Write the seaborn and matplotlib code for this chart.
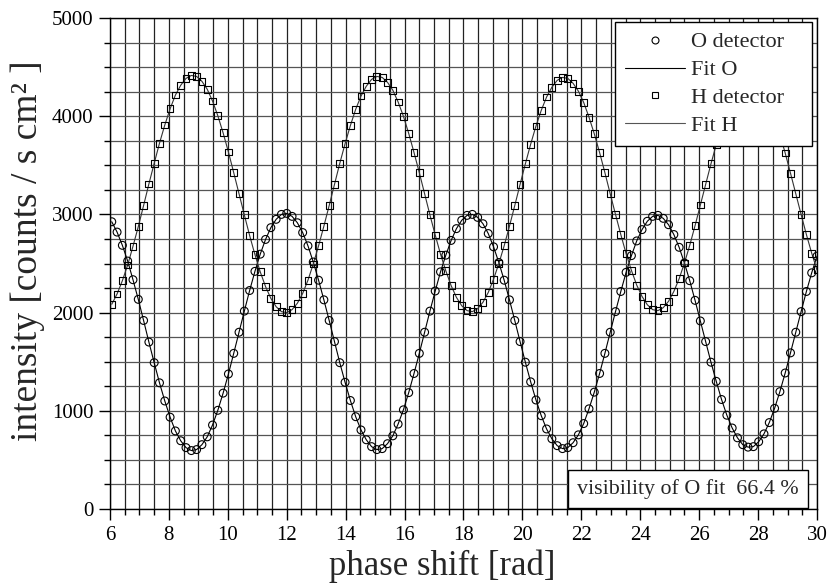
import numpy as np
import pandas as pd
import matplotlib
matplotlib.use("Agg")
import matplotlib.pyplot as plt
from matplotlib.lines import Line2D
from matplotlib.ticker import MultipleLocator
import seaborn as sns

# phase shift [rad]
phase = [6.06, 6.24, 6.42, 6.60, 6.78, 6.96, 7.14, 7.32, 7.50, 7.68,
         7.86, 8.04, 8.22, 8.40, 8.58, 8.76, 8.94, 9.12, 9.30, 9.48,
         9.66, 9.84, 10.02, 10.20, 10.38, 10.56, 10.74, 10.92, 11.10, 11.28,
         11.46, 11.64, 11.82, 12.00, 12.18, 12.36, 12.54, 12.72, 12.90, 13.08,
         13.26, 13.44, 13.62, 13.80, 13.98, 14.16, 14.34, 14.52, 14.70, 14.88,
         15.06, 15.24, 15.42, 15.60, 15.78, 15.96, 16.14, 16.32, 16.50, 16.68,
         16.86, 17.04, 17.22, 17.40, 17.58, 17.76, 17.94, 18.12, 18.30, 18.48,
         18.66, 18.84, 19.02, 19.20, 19.38, 19.56, 19.74, 19.92, 20.10, 20.28,
         20.46, 20.64, 20.82, 21.00, 21.18, 21.36, 21.54, 21.72, 21.90, 22.08,
         22.26, 22.44, 22.62, 22.80, 22.98, 23.16, 23.34, 23.52, 23.70, 23.88,
         24.06, 24.24, 24.42, 24.60, 24.78, 24.96, 25.14, 25.32, 25.50, 25.68,
         25.86, 26.04, 26.22, 26.40, 26.58, 26.76, 26.94, 27.12, 27.30, 27.48,
         27.66, 27.84, 28.02, 28.20, 28.38, 28.56, 28.74, 28.92, 29.10, 29.28,
         29.46, 29.64, 29.82, 30.00]

# O detector intensity [counts / s cm^2]
o_detector = [2925, 2820, 2685, 2525, 2335, 2135, 1920, 1700, 1490, 1285,
              1100, 935, 795, 695, 625, 595, 605, 655, 735, 855,
              1005, 1180, 1375, 1585, 1800, 2015, 2225, 2420, 2595, 2745,
              2865, 2950, 3000, 3010, 2980, 2915, 2815, 2680, 2515, 2330,
              2130, 1920, 1705, 1490, 1290, 1105, 940, 805, 705, 635,
              605, 615, 665, 745, 865, 1010, 1185, 1380, 1585, 1800,
              2015, 2220, 2415, 2585, 2735, 2855, 2940, 2990, 3000, 2970,
              2905, 2805, 2670, 2510, 2330, 2130, 1920, 1705, 1495, 1295,
              1110, 950, 815, 715, 645, 615, 625, 675, 755, 870,
              1020, 1190, 1380, 1585, 1800, 2010, 2215, 2410, 2580, 2730,
              2845, 2930, 2980, 2990, 2960, 2895, 2795, 2665, 2505, 2325,
              2125, 1915, 1705, 1495, 1300, 1115, 955, 825, 725, 655,
              630, 635, 685, 765, 880, 1025, 1195, 1385, 1590, 1800,
              2010, 2215, 2405, 2575]

# H detector intensity [counts / s cm^2]
h_detector = [2085, 2190, 2325, 2485, 2675, 2875, 3090, 3310, 3520, 3725,
              3910, 4075, 4215, 4315, 4385, 4415, 4405, 4355, 4275, 4155,
              4005, 3830, 3635, 3425, 3210, 2995, 2785, 2590, 2415, 2265,
              2145, 2060, 2010, 2000, 2030, 2095, 2195, 2330, 2495, 2680,
              2880, 3090, 3305, 3520, 3720, 3905, 4070, 4205, 4305, 4375,
              4405, 4395, 4345, 4265, 4145, 4000, 3825, 3630, 3425, 3210,
              2995, 2790, 2595, 2425, 2275, 2155, 2070, 2020, 2010, 2040,
              2105, 2205, 2340, 2500, 2680, 2880, 3090, 3305, 3515, 3715,
              3900, 4060, 4195, 4295, 4365, 4395, 4385, 4335, 4255, 4140,
              3990, 3820, 3630, 3425, 3210, 3000, 2795, 2600, 2430, 2280,
              2165, 2080, 2030, 2020, 2050, 2115, 2215, 2345, 2505, 2685,
              2885, 3095, 3305, 3515, 3710, 3895, 4055, 4185, 4285, 4355,
              4380, 4375, 4325, 4245, 4130, 3985, 3815, 3625, 3420, 3210,
              3000, 2795, 2605, 2435]

legend_labels = ["O detector", "Fit O", "H detector", "Fit H"]
visibility_text = "visibility of O fit  66.4 %"
x_label = "phase shift [rad]"
y_label = "intensity [counts / s cm² ]"

df = pd.DataFrame({"phase": phase, "O": o_detector, "H": h_detector})

sns.set_theme(style="ticks")
plt.rcParams["font.family"] = ["Liberation Serif", "DejaVu Serif"]
plt.rcParams["axes.edgecolor"] = "black"
plt.rcParams["xtick.color"] = "black"
plt.rcParams["ytick.color"] = "black"

fig = plt.figure(figsize=(8.29, 5.88), dpi=100)
ax = fig.add_axes([110 / 829, 1 - 509 / 588, 707 / 829, 491 / 588])

# grid
ax.xaxis.set_major_locator(MultipleLocator(2))
ax.xaxis.set_minor_locator(MultipleLocator(0.5))
ax.yaxis.set_major_locator(MultipleLocator(1000))
ax.yaxis.set_minor_locator(MultipleLocator(250))
ax.grid(True, which="both", axis="x", color="#222222", lw=0.9)
ax.grid(True, which="both", axis="y", color="#555555", lw=0.9)
ax.set_axisbelow(True)

# fits (through the data)
sns.lineplot(data=df, x="phase", y="O", ax=ax, color="black", lw=0.8,
             sort=False, estimator=None, zorder=3)
sns.lineplot(data=df, x="phase", y="H", ax=ax, color="#333333", lw=0.8,
             sort=False, estimator=None, zorder=3)
# data points
sns.scatterplot(data=df, x="phase", y="O", ax=ax, marker="o", s=32,
                facecolor="none", edgecolor="black", linewidth=0.8, zorder=4)
sns.scatterplot(data=df, x="phase", y="H", ax=ax, marker="s", s=24,
                facecolor="none", edgecolor="black", linewidth=0.8, zorder=4)

ax.set_xlim(6, 30)
ax.set_ylim(0, 5000)
ax.set_xlabel(x_label, fontsize=25)
ax.set_ylabel(y_label, fontsize=27)
ax.xaxis.set_label_coords(0.47, -0.083)
ax.yaxis.set_label_coords(-0.092, 0.527)
ax.tick_params(axis="both", which="major", labelsize=15, length=8, width=1,
               direction="out", pad=4)
ax.tick_params(axis="both", which="minor", length=4, width=1, direction="out")
for sp in ax.spines.values():
    sp.set_visible(True)
    sp.set_color("black")
    sp.set_linewidth(1.0)

handles = [
    Line2D([], [], ls="none", marker="o", mfc="none", mec="black", ms=5, mew=0.8),
    Line2D([], [], color="black", lw=0.8),
    Line2D([], [], ls="none", marker="s", mfc="none", mec="black", ms=4.5, mew=0.8),
    Line2D([], [], color="#555555", lw=0.8),
]
leg = ax.legend(handles, legend_labels, loc="upper right",
                bbox_to_anchor=(0.714, 0.741, 0.279, 0.251), mode="expand",
                fontsize=16, frameon=True,
                fancybox=False, framealpha=1, edgecolor="black",
                handlelength=2.7, handletextpad=0.3, labelspacing=0.33,
                borderpad=0.45, borderaxespad=0)
leg.get_frame().set_linewidth(1.0)
leg.set_zorder(10)

ax.text(0.8175, 0.041, visibility_text, transform=ax.transAxes, fontsize=15.8,
        ha="center", va="center", zorder=10,
        bbox=dict(boxstyle="square,pad=0.4", fc="white", ec="black", lw=1.0))

fig.savefig("out.png", dpi=100)
